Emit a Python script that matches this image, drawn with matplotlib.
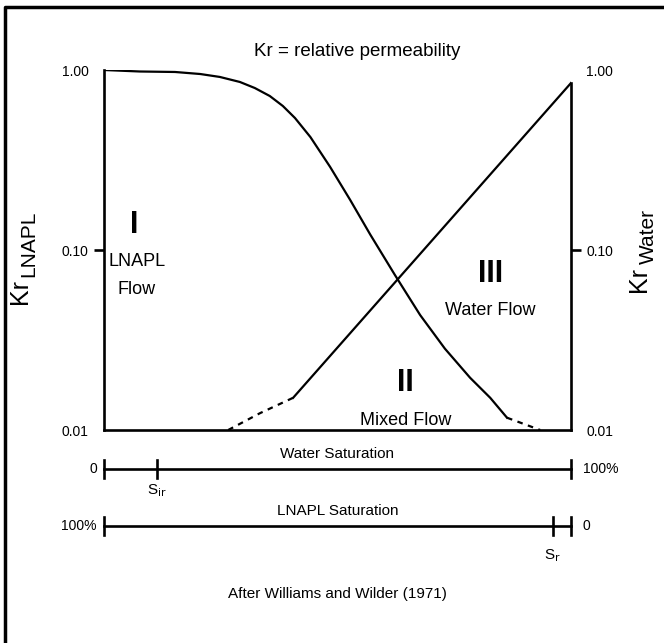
import matplotlib
matplotlib.use("Agg")
import matplotlib.pyplot as plt
from matplotlib.lines import Line2D
from matplotlib.transforms import blended_transform_factory

plt.rcParams['font.family'] = ['Liberation Sans', 'DejaVu Sans']

# water saturation (0-1) vs relative permeability
sw_lnapl = [0.0, 0.077, 0.152, 0.206, 0.248, 0.291, 0.323, 0.355, 0.383, 0.409,
            0.442, 0.484, 0.527, 0.570, 0.623, 0.677, 0.730, 0.784, 0.827, 0.863]
kr_lnapl = [1.0, 0.981, 0.975, 0.950, 0.915, 0.858, 0.794, 0.717, 0.631, 0.541,
            0.424, 0.290, 0.190, 0.122, 0.0726, 0.0435, 0.0283, 0.0195, 0.0151, 0.0117]
sw_lnapl_dash = [0.863, 0.934]
kr_lnapl_dash = [0.0117, 0.01]

sw_water = [0.405, 1.0]
kr_water = [0.0151, 0.847]
sw_water_dash = [0.266, 0.334, 0.405]
kr_water_dash = [0.01, 0.0124, 0.0151]

y_ticks = [0.01, 0.10, 1.00]
y_labels = ["0.01", "0.10", "1.00"]

s_ir = 0.113   # irreducible water saturation
s_r = 0.961    # residual LNAPL saturation

W, H = 664, 643
fig = plt.figure(figsize=(W / 100, H / 100), dpi=100)
ax = fig.add_axes([104 / W, 1 - 430 / H, 467 / W, 360 / H])

ax.set_yscale('log')
ax.set_xlim(0, 1)
ax.set_ylim(0.01, 1.0)

ax.plot(sw_lnapl, kr_lnapl, color='black', lw=1.6)
ax.plot(sw_lnapl_dash, kr_lnapl_dash, color='black', lw=1.6, ls=(0, (2.5, 2.5)))
ax.plot(sw_water, kr_water, color='black', lw=1.6)
ax.plot(sw_water_dash, kr_water_dash, color='black', lw=1.6, ls=(0, (2.5, 2.5)))

ax.spines['top'].set_visible(False)
for side in ['left', 'right', 'bottom']:
    ax.spines[side].set_linewidth(1.9)
ax.spines['right'].set_bounds(0.01, kr_water[-1])

ax.set_xticks([])
ax.set_yticks(y_ticks)
ax.set_yticklabels(y_labels, fontsize=10)
ax.yaxis.set_minor_locator(matplotlib.ticker.NullLocator())
ax.tick_params(axis='y', which='major', direction='out', length=7, width=1.9,
               left=True, right=True, labelleft=True, labelright=True, pad=4)
for i in (0, 2):
    t = ax.yaxis.get_major_ticks()[i]
    t.tick1line.set_visible(False)
    t.tick2line.set_visible(False)

# axis titles (Kr with large subscript)
fig.text(20 / W, 1 - 292 / H, "Kr", rotation=90, ha='center', va='center', fontsize=18)
fig.text(29 / W, 1 - 244 / H, "LNAPL", rotation=90, ha='center', va='center', fontsize=15)
fig.text(639 / W, 1 - 279 / H, "Kr", rotation=90, ha='center', va='center', fontsize=18)
fig.text(648 / W, 1 - 237 / H, "Water", rotation=90, ha='center', va='center', fontsize=15)

# zone labels
ax.text(0.065, 0.138, "I", ha='center', va='center', fontsize=22, fontweight='bold')
ax.text(0.07, 0.086, "LNAPL", ha='center', va='center', fontsize=13)
ax.text(0.07, 0.060, "Flow", ha='center', va='center', fontsize=13)
ax.text(0.645, 0.0182, "II", ha='center', va='center', fontsize=22, fontweight='bold')
ax.text(0.645, 0.0113, "Mixed Flow", ha='center', va='center', fontsize=13)
ax.text(0.827, 0.074, "III", ha='center', va='center', fontsize=22, fontweight='bold')
ax.text(0.827, 0.046, "Water Flow", ha='center', va='center', fontsize=13)

fig.text(357 / W, 1 - 52 / H, "Kr = relative permeability", ha='center', va='center', fontsize=13.5)

# saturation scales
tr = blended_transform_factory(ax.transData, fig.transFigure)
y1 = 1 - 469 / H
y2 = 1 - 526 / H
cap = 9 / H
for yy in (y1, y2):
    fig.add_artist(Line2D([0, 1], [yy, yy], transform=tr, color='black', lw=1.9))
    fig.add_artist(Line2D([0, 0], [yy - cap, yy + cap], transform=tr, color='black', lw=1.9))
    fig.add_artist(Line2D([1, 1], [yy - cap, yy + cap], transform=tr, color='black', lw=1.9))
fig.add_artist(Line2D([s_ir, s_ir], [y1 - cap, y1 + cap], transform=tr, color='black', lw=1.9))
fig.add_artist(Line2D([s_r, s_r], [y2 - cap, y2 + cap], transform=tr, color='black', lw=1.9))

fig.text(0.5, y1 + 15 / H, "Water Saturation", transform=tr, ha='center', va='center', fontsize=11)
fig.text(-0.015, y1, "0", transform=tr, ha='right', va='center', fontsize=10)
fig.text(1.025, y1, "100%", transform=tr, ha='left', va='center', fontsize=10)
fig.text(s_ir, y1 - 22 / H, "S$_{\\mathrm{ir}}$", transform=tr, ha='center', va='center', fontsize=11)

fig.text(0.5, y2 + 15 / H, "LNAPL Saturation", transform=tr, ha='center', va='center', fontsize=11)
fig.text(-0.015, y2, "100%", transform=tr, ha='right', va='center', fontsize=10)
fig.text(1.025, y2, "0", transform=tr, ha='left', va='center', fontsize=10)
fig.text(s_r, y2 - 30 / H, "S$_{\\mathrm{r}}$", transform=tr, ha='center', va='center', fontsize=11)

fig.text(0.5, 1 - 594 / H, "After Williams and Wilder (1971)", transform=tr,
         ha='center', va='center', fontsize=11)

# outer frame (top and left)
fig.add_artist(Line2D([5 / W, 5 / W, 1], [0, 1 - 7 / H, 1 - 7 / H],
                      transform=fig.transFigure, color='black', lw=2.5))

fig.savefig("out.png", dpi=100)
